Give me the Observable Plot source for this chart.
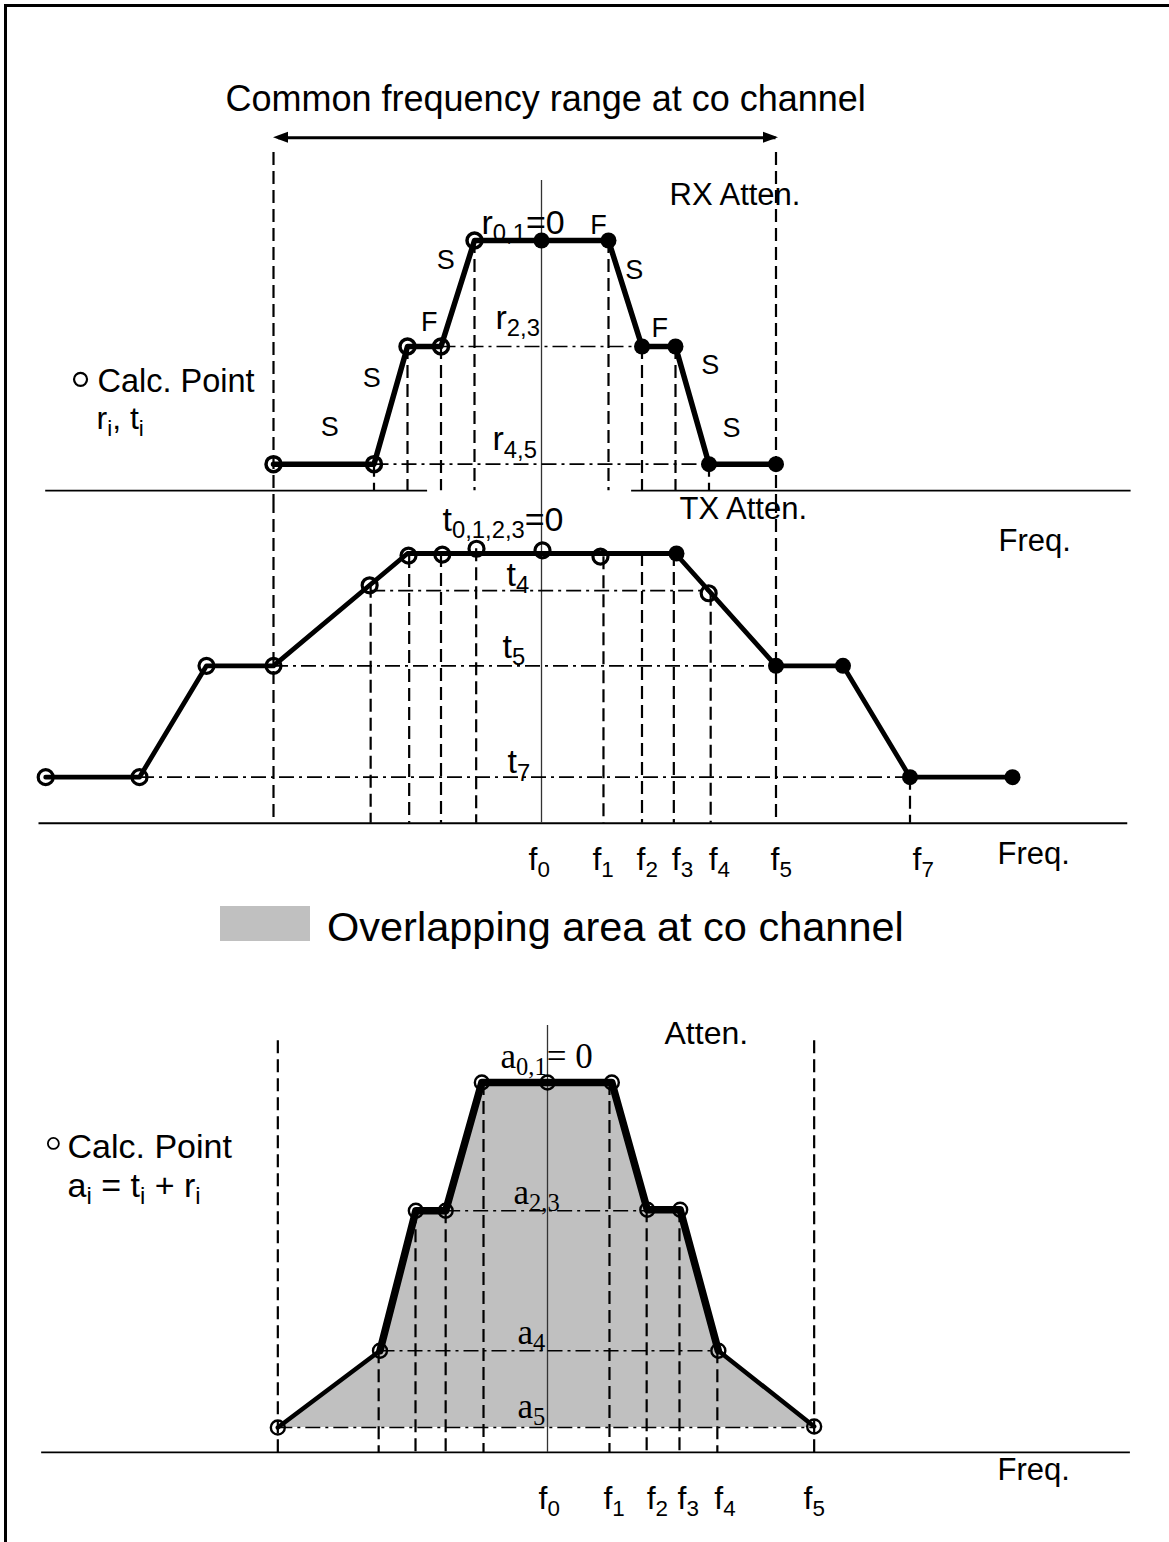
<!DOCTYPE html>
<html><head><meta charset="utf-8">
<script src="https://cdn.jsdelivr.net/npm/d3@7"></script>
<script src="https://cdn.jsdelivr.net/npm/@observablehq/plot@0.6"></script>
<style>
html,body{margin:0;padding:0;background:#fff;overflow:hidden;}
#page{position:relative;width:1169px;height:1542px;overflow:hidden;background:#fff;font-family:"Liberation Sans",Arial,sans-serif;}
#frame{position:absolute;left:4px;top:4px;width:1165px;height:1538px;border-left:3px solid #000;border-top:3px solid #000;box-sizing:border-box;pointer-events:none;}
</style></head><body><div id="page"></div>
<script>
// ---------------- DATA ----------------
// Upper panel: receiver (RX) attenuation mask, frequency offset (channel units) vs attenuation (dB)
const rxFreq  = [-8, -5, -4, -3, -2, 2, 3, 4, 5, 7];
const rxAtten = [42.2, 42.2, 20, 20, 0, 0, 20, 20, 42.2, 42.2];
const rxCalcFreq  = [-8, -5, -4, -3, -2];
const rxCalcAtten = [42.2, 42.2, 20, 20, 0];
const rxGivenFreq  = [0, 2, 3, 4, 5, 7];
const rxGivenAtten = [0, 0, 20, 20, 42.2, 42.2];
const rxSegmentLabels = ["S", "S", "F", "S", "F", "S", "F", "S", "S"];
const rxLevelNames  = ["r_{0,1}=0", "r_{2,3}", "r_{4,5}"];
const rxLevelValues = [0, 20, 42.2];
const rxFloor = 47.2;

// Middle panel: transmitter (TX) attenuation mask
const txFreq  = [-14.8, -12, -10, -8, -4, 4, 7, 9, 11, 14];
const txAtten = [42.2, 42.2, 21.2, 21.2, 0, 0, 21.2, 21.2, 42.2, 42.2];
const txCalcFreq  = [-14.8, -12, -10, -8, -5.13, -3.97, -2.96, -1.94, 0.03, 1.76, 4.99];
const txCalcAtten = [42.2, 42.2, 21.2, 21.2, 6.0, 0.4, 0.2, -0.9, -0.6, 0.6, 7.5];
const txGivenFreq  = [4.03, 7, 9, 11, 14.06];
const txGivenAtten = [0, 21.2, 21.2, 42.2, 42.2];
const txGuideFreq  = [-5.1, -3.95, -3.0, -1.95, 1.85, 3.0, 3.95, 5.05, 11.0];
const txGuideAtten = [6.0, 0.4, 0.2, -0.9, 0.6, 0, 0, 7.5, 42.2];
const txLevelNames  = ["t_{0,1,2,3}=0", "t_{4}", "t_{5}", "t_{7}"];
const txLevelValues = [0, 7, 21.2, 42.2];
const txFloor = 50.9;

// Common frequency range at co channel
const commonRange = [-8, 7];

// Frequency tick labels
const fTxNames = ["f_{0}", "f_{1}", "f_{2}", "f_{3}", "f_{4}", "f_{5}", "f_{7}"];
const fTxFreq  = [0, 1.85, 3.0, 3.95, 5.05, 7.0, 11.0];
const fOvNames = ["f_{0}", "f_{1}", "f_{2}", "f_{3}", "f_{4}", "f_{5}"];
const fOvFreq  = [0, 1.85, 2.96, 3.94, 5.07, 7.94];

// Bottom panel: overlapping attenuation a_i = t_i + r_i
const ovFreq  = [-8.05, -5.0, -3.93, -3.04, -1.96, 0, 1.92, 2.98, 3.96, 5.1, 7.96];
const ovAtten = [65.1, 50.6, 24.2, 24.2, 0, 0, 0, 24.0, 24.0, 50.6, 64.9];
const ovGuideFreq  = [-5.04, -3.94, -3.04, -1.91, 1.85, 2.96, 3.94, 5.07];
const ovGuideAtten = [50.6, 24.2, 24.2, 0, 0, 24, 24, 50.6];
const ovLevelNames  = ["a_{0,1}= 0", "a_{2,3}", "a_{4}", "a_{5}"];
const ovLevelValues = [0, 24.2, 50.6, 65.1];
const ovFloor = 69.8;

// ---------------- DRAWING ----------------
const page = document.getElementById("page");
const W = 1169, U = 33.5, DB = 5.3;           // px per frequency unit / per dB
const DASH = "13,6", DASHDOT = "15,5,3,5";
const SANS = "Liberation Sans, Arial, sans-serif", SERIF = "Liberation Serif, Times New Roman, serif";

const zip = (a, b) => a.map((f, i) => ({f, v: b[i]}));
const rx = zip(rxFreq, rxAtten), rxCalc = zip(rxCalcFreq, rxCalcAtten), rxGiven = zip(rxGivenFreq, rxGivenAtten);
const tx = zip(txFreq, txAtten), txCalc = zip(txCalcFreq, txCalcAtten), txGiven = zip(txGivenFreq, txGivenAtten);
const txGuides = zip(txGuideFreq, txGuideAtten);
const ov = zip(ovFreq, ovAtten), ovGuides = zip(ovGuideFreq, ovGuideAtten);

const lab = (text, x, y, dx, dy, o = {}) =>
  Plot.text([text], {x, y, dx, dy, text: d => d, textAnchor: "start", lineAnchor: "bottom", fontSize: 31, ...o});
const free = (text, dx, dy, o = {}) =>
  Plot.text([text], {frameAnchor: "top-left", dx, dy, text: d => d, textAnchor: "start", lineAnchor: "bottom", fontSize: 32, ...o});

function rich(svg) {
  const ns = "http://www.w3.org/2000/svg";
  svg.querySelectorAll("text").forEach(t => {
    const s = t.textContent;
    if (!s.includes("_{")) return;
    const g = t.closest("[font-size]");
    const fs = g ? parseFloat(g.getAttribute("font-size")) : 30;
    while (t.firstChild) t.removeChild(t.firstChild);
    let down = false;
    for (const p of s.split(/(_\{[^}]*\})/)) {
      if (!p) continue;
      const ts = document.createElementNS(ns, "tspan");
      if (p.startsWith("_{")) {
        ts.textContent = p.slice(2, -1);
        ts.setAttribute("font-size", (fs * 0.7).toFixed(1));
        ts.setAttribute("dy", (fs * 0.22).toFixed(1));
        down = true;
      } else {
        ts.textContent = p;
        if (down) { ts.setAttribute("dy", (-fs * 0.22).toFixed(1)); down = false; }
      }
      t.appendChild(ts);
    }
  });
}

function panel(top, height, x0, y0, marks) {
  const svg = Plot.plot({
    width: W, height,
    marginTop: 0, marginRight: 0, marginBottom: 0, marginLeft: 0,
    x: {domain: [-x0 / U, (W - x0) / U], range: [0, W], axis: null},
    y: {domain: [-y0 / DB, (height - y0) / DB], range: [0, height], axis: null},
    style: {background: "transparent", fontFamily: SANS, overflow: "visible", maxWidth: "none"},
    marks
  });
  rich(svg);
  svg.style.position = "absolute";
  svg.style.left = "0px";
  svg.style.top = top + "px";
  page.appendChild(svg);
  return svg;
}

const guide = {stroke: "#000", strokeWidth: 2.2, strokeDasharray: DASH};
const level = {stroke: "#000", strokeWidth: 1.6, strokeDasharray: DASHDOT};
const axisLine = {stroke: "#000", strokeWidth: 1.8};
const centre = {stroke: "#333", strokeWidth: 1.3};

// ---- Panel A: RX ----
{
  const H = 500, y0 = 240, x0 = 541;
  const yBot = (H - y0) / DB;
  const yArrow = -19.4;
  const heads = [
    {h: 0, x: commonRange[0], y1: yArrow, y2: yArrow},
    {h: 0, x: commonRange[0] + 15 / U, y1: yArrow - 5.5 / DB, y2: yArrow + 5.5 / DB},
    {h: 1, x: commonRange[1] + 2.5 / U, y1: yArrow, y2: yArrow},
    {h: 1, x: commonRange[1] + 2.5 / U - 15 / U, y1: yArrow - 5.5 / DB, y2: yArrow + 5.5 / DB}
  ];
  const segOff = [[6, -37], [-19, -27], [5, -24], [-12, -33], [57, -15], [9, -23], [1, -18], [18, -40], [-11, -36]];
  const segMarks = rxSegmentLabels.map((s, i) => {
    const a = rx[i], b = rx[i + 1];
    return Plot.text([s], {x: (a.f + b.f) / 2, y: (a.v + b.v) / 2, dx: segOff[i][0], dy: segOff[i][1],
      text: d => d, fontSize: 27, textAnchor: "middle"});
  });
  panel(0, H, x0, y0, [
    Plot.ruleY([rxFloor], {x1: -14.8, x2: -3.4, ...axisLine}),
    Plot.ruleY([rxFloor], {x1: 2.69, x2: 17.6, ...axisLine}),
    Plot.ruleX([0], {y1: -11.3, y2: yBot, ...centre}),
    Plot.ruleX(commonRange, {y1: -16.6, y2: yBot, ...guide}),
    Plot.ruleX(rx.slice(1, -1), {x: "f", y1: "v", y2: rxFloor, ...guide}),
    Plot.ruleY([rxLevelValues[1]], {x1: -3, x2: 3, ...level}),
    Plot.ruleY([rxLevelValues[2]], {x1: -5, x2: 5, ...level}),
    Plot.ruleY([yArrow], {x1: commonRange[0] + 5 / U, x2: commonRange[1], stroke: "#000", strokeWidth: 3}),
    Plot.areaY(heads, {x: "x", y1: "y1", y2: "y2", z: "h", fill: "#000"}),
    Plot.line(rx, {x: "f", y: "v", stroke: "#000", strokeWidth: 5.5}),
    Plot.dot(rxCalc, {x: "f", y: "v", r: 7.5, stroke: "#000", strokeWidth: 3.5, fill: "none"}),
    Plot.dot(rxGiven, {x: "f", y: "v", r: 8, fill: "#000", stroke: "none"}),
    ...segMarks,
    lab("Common frequency range at co channel", commonRange[0], yArrow, -48, -27, {fontSize: 36}),
    lab("RX Atten.", 0, 0, 128, -36),
    lab(rxLevelNames[0], -2, rxLevelValues[0], 7, -7, {fontSize: 34}),
    lab(rxLevelNames[1], 0, rxLevelValues[1], -46, -18, {fontSize: 34}),
    lab(rxLevelNames[2], 0, rxLevelValues[2], -49, -14, {fontSize: 34}),
    Plot.dot([0], {x: -13.76, y: 26.2, r: 6.5, stroke: "#000", strokeWidth: 2.2, fill: "none"}),
    free("Calc. Point", 97, 391, {fontSize: 32.5}),
    free("r_{i}, t_{i}", 96, 428, {fontSize: 32})
  ]);
}

// ---- Panel B: TX ----
{
  const H = 385, y0 = 53, x0 = 541;
  const yTop = -y0 / DB;
  const fDx = [-13, -11, -5.5, -2, -2, -5.5, 2.5];
  panel(500, H, x0, y0, [
    Plot.ruleY([txFloor], {x1: -15.0, x2: 17.5, ...axisLine}),
    Plot.ruleX([0], {y1: yTop, y2: txFloor, ...centre}),
    Plot.ruleX(commonRange, {y1: yTop, y2: txFloor, ...guide}),
    Plot.ruleX(txGuides, {x: "f", y1: "v", y2: txFloor, ...guide}),
    Plot.ruleY([txLevelValues[1]], {x1: -5.1, x2: 5.05, ...level}),
    Plot.ruleY([txLevelValues[2]], {x1: -8, x2: 7, ...level}),
    Plot.ruleY([txLevelValues[3]], {x1: -12, x2: 11, ...level}),
    Plot.line(tx, {x: "f", y: "v", stroke: "#000", strokeWidth: 4.8}),
    Plot.dot(txCalc, {x: "f", y: "v", r: 7.5, stroke: "#000", strokeWidth: 3.2, fill: "none"}),
    Plot.dot(txGiven, {x: "f", y: "v", r: 8, fill: "#000", stroke: "none"}),
    lab("TX Atten.", 0, 0, 138, -35),
    lab("Freq.", 0, 0, 457, -3),
    lab(txLevelNames[0], 0, txLevelValues[0], -99, -23, {fontSize: 34}),
    lab(txLevelNames[1], 0, txLevelValues[1], -35, -5, {fontSize: 34}),
    lab(txLevelNames[2], 0, txLevelValues[2], -39, -8, {fontSize: 34}),
    lab(txLevelNames[3], 0, txLevelValues[3], -34, -4, {fontSize: 34}),
    ...fTxNames.map((n, i) => lab(n, fTxFreq[i], txFloor, fDx[i], 47, {fontSize: 32})),
    lab("Freq.", 0, txFloor, 456, 41)
  ]);
}

// ---- Legend (between panels) ----
{
  const lg = document.createElement("div");
  lg.style.cssText = "position:absolute;left:0;top:0;";
  lg.innerHTML =
    '<div style="position:absolute;left:220px;top:906px;width:90px;height:35px;background:#c0c0c0;"></div>' +
    '<div style="position:absolute;left:327px;top:906px;font-size:41.5px;line-height:41.5px;white-space:nowrap;color:#000;font-family:\'Liberation Sans\',Arial,sans-serif;">Overlapping area at co channel</div>';
  page.appendChild(lg);
}

// ---- Panel C: overlap ----
{
  const H = 582, y0 = 122, x0 = 547;
  const fDx = [-9, -6, 0, -2, -3, -10];
  panel(960, H, x0, y0, [
    Plot.areaY(ov, {x: "f", y1: ovLevelValues[3], y2: "v", fill: "#c0c0c0"}),
    Plot.ruleY([ovFloor], {x1: -15.1, x2: 17.4, ...axisLine}),
    Plot.ruleX([0], {y1: -10.75, y2: ovFloor, ...centre}),
    Plot.ruleX([ovFreq[0], ovFreq[ovFreq.length - 1]], {y1: -7.9, y2: ovFloor, ...guide}),
    Plot.ruleX(ovGuides, {x: "f", y1: "v", y2: ovFloor, ...guide}),
    Plot.ruleY([ovLevelValues[1]], {x1: -3.04, x2: 2.98, ...level}),
    Plot.ruleY([ovLevelValues[2]], {x1: -5.0, x2: 5.1, ...level}),
    Plot.ruleY([ovLevelValues[3]], {x1: -8.05, x2: 7.96, ...level}),
    Plot.line(ov, {x: "f", y: "v", stroke: "#000", strokeWidth: 4.5}),
    Plot.line(ov.slice(1, -1), {x: "f", y: "v", stroke: "#000", strokeWidth: 7.5}),
    Plot.dot(ov, {x: "f", y: "v", r: 7, stroke: "#000", strokeWidth: 2.4, fill: "none"}),
    lab(ovLevelNames[0], 0, ovLevelValues[0], -47, -15, {fontSize: 35, fontFamily: SERIF}),
    lab(ovLevelNames[1], 0, ovLevelValues[1], -34, -7, {fontSize: 35, fontFamily: SERIF}),
    lab(ovLevelNames[2], 0, ovLevelValues[2], -30, -7, {fontSize: 35, fontFamily: SERIF}),
    lab(ovLevelNames[3], 0, ovLevelValues[3], -30, -10, {fontSize: 35, fontFamily: SERIF}),
    lab("Atten.", 0, 0, 117, -39, {fontSize: 32}),
    Plot.dot([0], {x: -14.75, y: 11.5, r: 5.5, stroke: "#000", strokeWidth: 1.8, fill: "none"}),
    free("Calc. Point", 67, 197, {fontSize: 34}),
    free("a_{i} = t_{i} + r_{i}", 67, 236, {fontSize: 34}),
    lab("Freq.", 0, ovFloor, 450, 28),
    ...fOvNames.map((n, i) => lab(n, fOvFreq[i], ovFloor, fDx[i], 57, {fontSize: 32}))
  ]);
}

// frame (left and top border)
{
  const fr = document.createElement("div");
  fr.id = "frame";
  page.appendChild(fr);
}
</script></body></html>
